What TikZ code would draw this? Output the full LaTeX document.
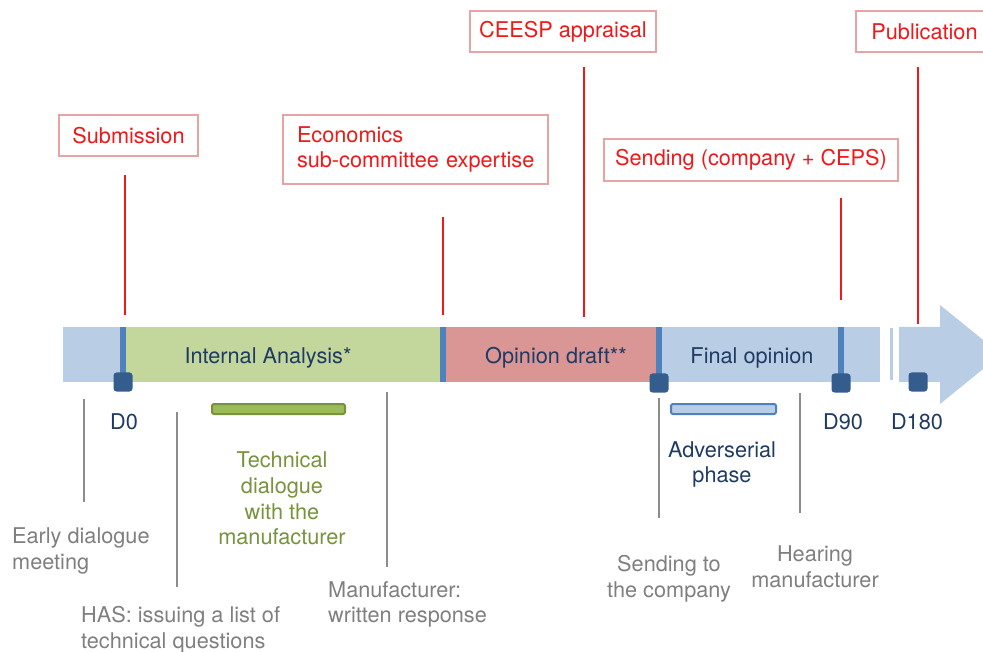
\documentclass[tikz,border=0pt]{standalone}
\usepackage{fontspec}
\setmainfont{TeX Gyre Heros}
\definecolor{barblue}{HTML}{B9CDE5}
\definecolor{bargreen}{HTML}{C3D69B}
\definecolor{barpink}{HTML}{D99694}
\definecolor{markblue}{HTML}{4F81BD}
\definecolor{dateblue}{HTML}{345C8C}
\definecolor{textblue}{HTML}{1F3B63}
\definecolor{milered}{HTML}{F01818}
\definecolor{mileborder}{HTML}{E8A4A4}
\definecolor{notegrey}{HTML}{7F7F7F}
\definecolor{linegrey}{HTML}{8C8C8C}
\definecolor{talkgreen}{HTML}{77933C}
\definecolor{talkfill}{HTML}{9BBB59}
\begin{document}
\begin{tikzpicture}[x=1pt,y=-1pt,
    every node/.style={font=\fontsize{21.7}{25.8}\selectfont},
    segment/.style={inner sep=0pt, minimum height=55pt},
    barlabel/.style={text=textblue},
    marker/.style={draw=markblue, line width=5.5pt},
    datebox/.style={fill=dateblue, rounded corners=3pt, minimum size=19pt, inner sep=0pt},
    milestone/.style={draw=mileborder, line width=1.2pt, fill=white, text=milered, minimum height=41pt, inner sep=0pt},
    redline/.style={draw=milered, line width=1.6pt},
    noteline/.style={draw=linegrey, line width=1.4pt},
    note/.style={text=notegrey, inner sep=0pt}]
    \useasboundingbox (0,0) rectangle (983,652);
    \clip (0,0) rectangle (983,652);

    % timeline bar
    \node[segment, fill=barblue, minimum width=60pt] (early) at (93,354.5) {};
    \node[segment, fill=bargreen, minimum width=320pt] (analysis) at (283,354.5) {};
    \node[segment, fill=barpink, minimum width=216pt] (draft) at (551,354.5) {};
    \node[segment, fill=barblue, minimum width=221pt] (final) at (769.5,354.5) {};
    \fill[barblue] (889.5,328) rectangle (892.5,380);
    \fill[barblue] (899,327) -- (940,327) -- (940,305) -- (1001,354.5) -- (940,404) -- (940,382) -- (899,382) -- cycle;

    \node[barlabel] (analysislab) at (268,358) {Internal Analysis*};
    \node[barlabel] (draftlab) at (556,358) {Opinion draft**};
    \node[barlabel] (finallab) at (752,358) {Final opinion};

    \draw[marker] (early.north east) -- (early.south east);
    \draw[marker] (analysis.north east) -- (analysis.south east);
    \draw[marker] (draft.north east) -- (draft.south east);
    \draw[marker] (841,327) -- (841,382);

    % dates
    \node[datebox] (d0) at (123,382) {};
    \node[datebox] (d45) at (659,383) {};
    \node[datebox] (d90) at (841,383) {};
    \node[datebox] (d180) at (918,382) {};
    \node[barlabel] (d0lab) at (124,422) {D0};
    \node[barlabel] (d90lab) at (843,422) {D90};
    \node[barlabel] (d180lab) at (917,422) {D180};

    % milestones
    \node[milestone, minimum width=139pt] (submission) at (128.5,135.5) {Submission};
    \node[milestone, minimum height=69pt, text width=237pt, align=left, inner xsep=14pt] (economics) at (415.5,149.5) {Economics\\sub-committee expertise};
    \node[milestone, minimum width=186pt] (ceesp) at (563,31.5) {CEESP appraisal};
    \node[milestone, minimum width=294pt, minimum height=42pt] (sending) at (751,160) {Sending (company + CEPS)};
    \node[milestone, minimum width=137pt] (publication) at (924.5,31.5) {Publication};

    \coordinate (submissionend) at (125,315);
    \coordinate (economicsend) at (443,315);
    \coordinate (ceespend) at (584,317);
    \coordinate (sendingend) at (841,300);
    \coordinate (publicationend) at (918,324);
    \draw[redline] (125,175) -- (submissionend);
    \draw[redline] (443,217) -- (economicsend);
    \draw[redline] (584,67) -- (ceespend);
    \draw[redline] (841,198) -- (sendingend);
    \draw[redline] (918,67) -- (publicationend);

    % phases under the bar
    \node[draw=talkgreen, fill=talkfill, line width=2pt, rounded corners=2pt, minimum width=133pt, minimum height=10pt, inner sep=0pt] (talkbar) at (278.5,409) {};
    \node[text=talkgreen, align=center, inner sep=0pt] (talk) at (282,498.5) {Technical\\dialogue\\with the\\manufacturer};
    \node[draw=markblue, fill=barblue, line width=2pt, rounded corners=2pt, minimum width=105pt, minimum height=10pt, inner sep=0pt] (adverbar) at (723.5,409) {};
    \node[text=textblue, align=center, inner sep=0pt] (adver) at (722,464.5) {Adverserial\\phase};

    % notes
    \node[note, anchor=west, align=left] (earlynote) at (12,551) {Early dialogue\\meeting};
    \node[note, anchor=west, align=left] (hasnote) at (81,629.5) {HAS: issuing a list of\\technical questions};
    \node[note, anchor=west, align=left] (manufnote) at (328,604.5) {Manufacturer:\\written response};
    \node[note, align=center] (sendnote) at (669,579) {Sending to\\the company};
    \node[note, align=center] (hearnote) at (815,567) {Hearing\\manufacturer};

    \coordinate (earlytop) at (84,399);
    \coordinate (hastop) at (177,412);
    \coordinate (manuftop) at (387,392);
    \coordinate (sendtop) at (659,398);
    \coordinate (heartop) at (800,393);
    \draw[noteline] (earlytop) -- (84,502);
    \draw[noteline] (hastop) -- (177,587);
    \draw[noteline] (manuftop) -- (387,567);
    \draw[noteline] (sendtop) -- (659,518);
    \draw[noteline] (heartop) -- (800,513);
\end{tikzpicture}
\end{document}
